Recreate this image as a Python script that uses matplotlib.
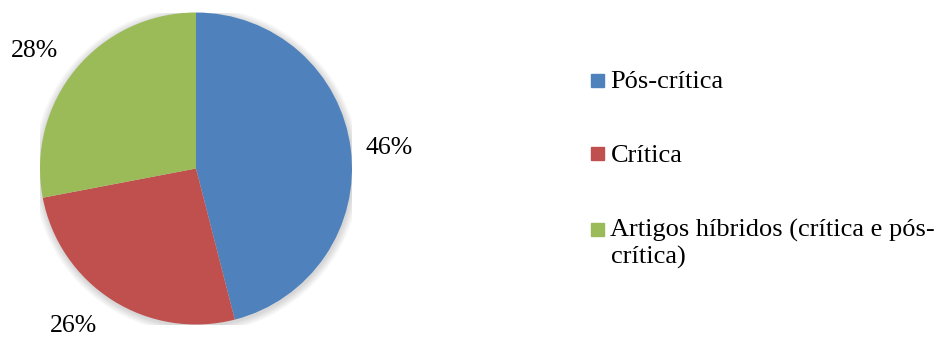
import numpy as np
import matplotlib
matplotlib.use("Agg")
import matplotlib.pyplot as plt
from matplotlib.patches import Circle, Rectangle

categories = ["Pós-crítica", "Crítica", "Artigos híbridos (crítica e pós-\ncrítica)"]
values = [46, 26, 28]
colors = ["#4F81BD", "#C0504D", "#9BBB59"]

plt.rcParams["font.family"] = ["Liberation Serif", "DejaVu Serif"]

W, H = 939, 337
fig = plt.figure(figsize=(W / 100, H / 100), dpi=100)
fig.patch.set_facecolor("white")

# pie axes: centre (196, 168.5) px, radius 156 px
cx, cy, r = 196, 168.5, 156
ax = fig.add_axes([(cx - r) / W, (H - cy - r) / H, 2 * r / W, 2 * r / H])
ax.axis("off")

# soft shadow behind the pie
for i in range(8):
    ax.add_patch(Circle((0.004, -0.01), 1.0 + 0.006 * (i + 1), color="black",
                        alpha=0.018, lw=0, zorder=0))

wedges, texts, autotexts = ax.pie(
    values, colors=colors, startangle=90, counterclock=False,
    autopct="%d%%", pctdistance=1.27, radius=1.0,
    wedgeprops=dict(linewidth=0), textprops=dict(fontsize=18.5, color="black"),
)
for w in wedges:
    w.set_zorder(2)

# best-fit placement of the percentage labels around the rim
label_shift_deg = [-1.2, -5.5, 3.6]
label_dist = [1.248, 1.276, 1.28]
for w, t, sh, d in zip(wedges, autotexts, label_shift_deg, label_dist):
    mid = np.deg2rad((w.theta1 + w.theta2) / 2 + sh)
    t.set_position((d * np.cos(mid), d * np.sin(mid)))
    t.set_ha("center")
    t.set_va("center")

ax.set_xlim(-1, 1)
ax.set_ylim(-1, 1)
ax.set_aspect("equal")

# legend drawn by hand: square aligned with the first text line
square_centers = [80, 153.7, 229]
baselines = [88.3, 161.7, 236.7]
line_gap = 27.3
sq = 13
for lab, col, yc, yb in zip(categories, colors, square_centers, baselines):
    fig.patches.append(Rectangle((591 / W, (H - yc - sq / 2) / H), sq / W, sq / H,
                                 transform=fig.transFigure, color=col))
    for k, line in enumerate(lab.split("\n")):
        fig.text(610.5 / W, (H - (yb + line_gap * k)) / H, line, fontsize=19,
                 va="baseline", ha="left")

fig.savefig("out.png", dpi=100)
